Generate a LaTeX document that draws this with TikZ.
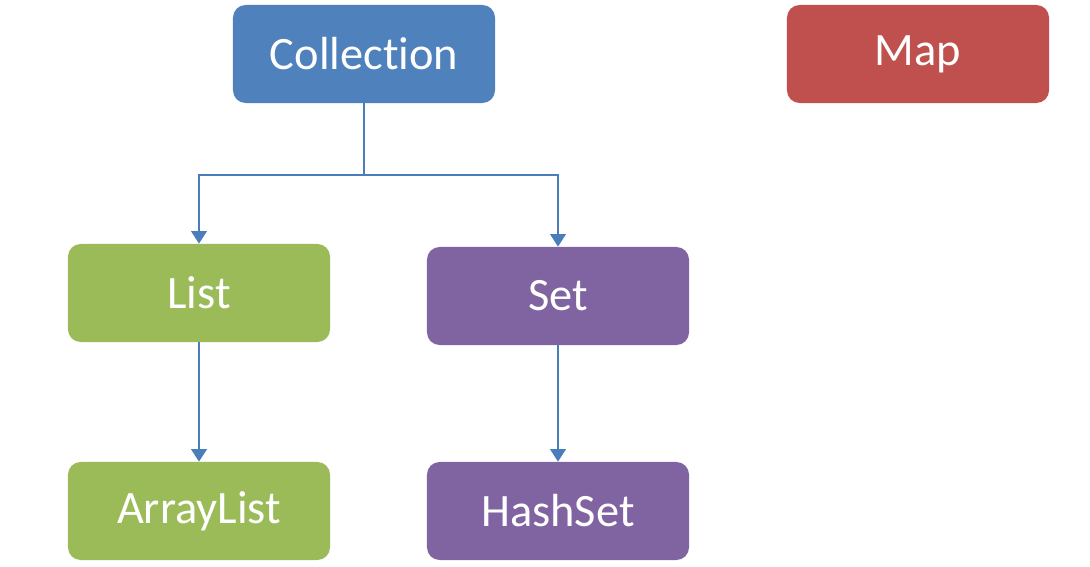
\documentclass[tikz,border=0pt]{standalone}
\usepackage{fontspec}
\setmainfont[Ligatures=NoCommon]{Carlito}
\usetikzlibrary{arrows.meta,positioning}
\definecolor{collblue}{HTML}{4F81BD}
\definecolor{mapred}{HTML}{C0504D}
\definecolor{listgreen}{HTML}{9BBB59}
\definecolor{setpurple}{HTML}{8064A2}
\definecolor{linkblue}{HTML}{4A7EBB}

\begin{document}
\begin{tikzpicture}[
  x=0.025cm, y=-0.025cm,
  box/.style={rectangle, rounded corners=9pt, minimum width=6.55cm,
              minimum height=2.45cm, text=white, inner sep=0pt,
              font=\fontsize{33}{40}\selectfont, align=center},
  arr/.style={-{Triangle[width=11pt,length=9pt]}, draw=linkblue, line width=1.8pt},
]
  \useasboundingbox (0,0) rectangle (1090,566);
  \node[box, fill=collblue] (coll) at (364,54) {Collection};
  \node[box, fill=mapred] (map) at (918,54) {Map};
  \node[box, fill=listgreen] (list) at (199,293) {List};
  \node[box, fill=setpurple] (set) at (558,296) {Set};
  \node[box, fill=listgreen] (alist) at (199,511) {ArrayList};
  \node[box, fill=setpurple] (hset) at (558,511) {HashSet};

  \coordinate (split) at (364,175);
  \draw[arr] (coll.south) -- (split) -| (list.north);
  \draw[arr] (split) -| (set.north);
  \draw[arr] (list) -- (alist);
  \draw[arr] (set) -- (hset);
\end{tikzpicture}
\end{document}
